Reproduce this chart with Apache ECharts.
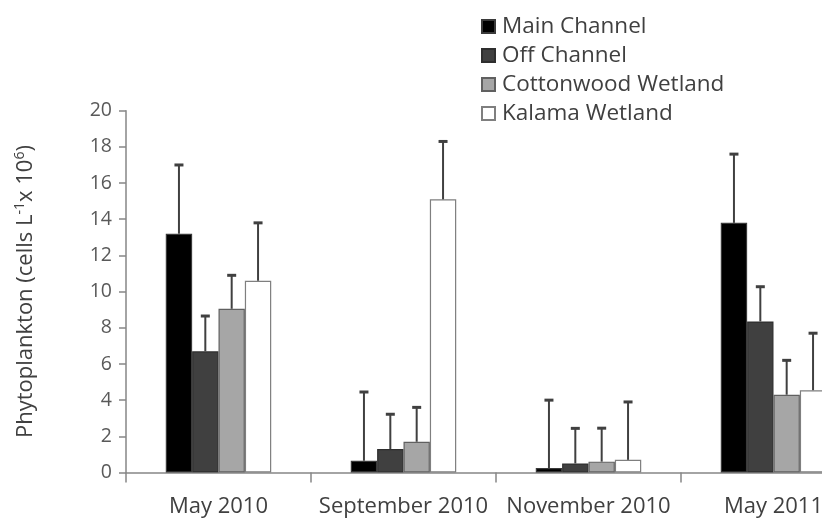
<!DOCTYPE html>
<html>
<head>
<meta charset="utf-8">
<script src="https://cdn.jsdelivr.net/npm/echarts@6/dist/echarts.min.js"></script>
<style>
  html, body { margin: 0; padding: 0; background: #fff; }
  #chart { width: 822px; height: 519px; }
</style>
</head>
<body>
<div id="chart"></div>
<script>
// Sampling periods
const categories = ['May 2010', 'September 2010', 'November 2010', 'May 2011'];

// Mean phytoplankton density (cells L-1 x 10^6) per site
const mainChannel = [13.2, 0.65, 0.25, 13.8];
const offChannel = [6.7, 1.3, 0.5, 8.35];
const cottonwoodWetland = [9.05, 1.7, 0.6, 4.3];
const kalamaWetland = [10.6, 15.1, 0.7, 4.55];

// Upper error bar lengths (same units)
const mainChannelErr = [3.8, 3.8, 3.75, 3.8];
const offChannelErr = [1.95, 1.92, 1.94, 1.92];
const cottonwoodWetlandErr = [1.85, 1.9, 1.85, 1.9];
const kalamaWetlandErr = [3.2, 3.2, 3.2, 3.15];

const yTicks = { min: 0, max: 20, interval: 2 };

const sites = [
  { name: 'Main Channel', values: mainChannel, errs: mainChannelErr, color: '#000000', border: '#3a3a3a' },
  { name: 'Off Channel', values: offChannel, errs: offChannelErr, color: '#404040', border: '#2e2e2e' },
  { name: 'Cottonwood Wetland', values: cottonwoodWetland, errs: cottonwoodWetlandErr, color: '#a6a6a6', border: '#606060' },
  { name: 'Kalama Wetland', values: kalamaWetland, errs: kalamaWetlandErr, color: '#ffffff', border: '#7f7f7f' }
];

const CATEGORY_GAP = 0.43;
const font = '"Open Sans", "Liberation Sans", sans-serif';

const barSeries = sites.map(s => ({
  name: s.name,
  type: 'bar',
  data: s.values,
  barGap: '0%',
  barCategoryGap: (CATEGORY_GAP * 100) + '%',
  itemStyle: { color: s.color, borderColor: s.border, borderWidth: 1.2 },
  z: 2
}));

// Upper error bars, positioned at the centre of each bar in its group
const errorSeries = sites.map((s, k) => ({
  name: s.name + ' SD',
  type: 'custom',
  z: 3,
  data: s.values.map((v, i) => [i, v, s.errs[i]]),
  encode: { x: 0, y: 1 },
  renderItem: function (params, api) {
    const cat = api.value(0), v = api.value(1), e = api.value(2);
    const base = api.coord([cat, v]);
    const top = api.coord([cat, v + e]);
    const band = api.size([1, 0])[0];
    const bw = band * (1 - CATEGORY_GAP) / sites.length;
    const x = base[0] + (k - (sites.length - 1) / 2) * bw;
    const stroke = '#404040';
    return {
      type: 'group',
      children: [
        { type: 'line', shape: { x1: x, y1: base[1], x2: x, y2: top[1] }, style: { stroke: stroke, lineWidth: 2 } },
        { type: 'line', shape: { x1: x - 4.5, y1: top[1], x2: x + 4.5, y2: top[1] }, style: { stroke: stroke, lineWidth: 3 } }
      ]
    };
  }
}));

const chart = echarts.init(document.getElementById('chart'), null, { renderer: 'canvas' });
chart.setOption({
  animation: false,
  backgroundColor: '#ffffff',
  legend: {
    orient: 'vertical',
    left: 476,
    top: 10,
    itemWidth: 13,
    itemHeight: 13,
    itemGap: 6,
    icon: 'rect',
    data: sites.map(s => s.name),
    textStyle: { fontFamily: font, fontSize: 22.5, color: '#404040', padding: [0, 0, 0, 2] }
  },
  grid: {
    left: 126,
    top: 110.7,
    bottom: 46.5,
    right: -44,
    containLabel: false,
    outerBoundsMode: 'none'
  },
  xAxis: {
    type: 'category',
    data: categories,
    axisLine: { lineStyle: { color: '#868686', width: 1.5 } },
    axisTick: { show: true, length: 10, alignWithLabel: false, lineStyle: { color: '#868686', width: 1.5 } },
    axisLabel: { fontFamily: font, fontSize: 22, color: '#404040', margin: 23, interval: 0 }
  },
  yAxis: {
    type: 'value',
    min: yTicks.min,
    max: yTicks.max,
    interval: yTicks.interval,
    splitLine: { show: false },
    axisLine: { show: true, lineStyle: { color: '#868686', width: 1.5 } },
    axisTick: { show: true, length: 7, lineStyle: { color: '#868686', width: 1.5 } },
    axisLabel: { fontFamily: font, fontSize: 19.5, color: '#595959', margin: 14 },
    name: '{a|Phytoplankton (cells L}{s|-1}{a|x 10}{s|6}{a|)}',
    nameLocation: 'middle',
    nameRotate: 90,
    nameGap: 88,
    nameTextStyle: {
      rich: {
        a: { fontFamily: font, fontSize: 22, color: '#404040' },
        s: { fontFamily: font, fontSize: 14, color: '#404040', padding: [0, 0, 11, 0] }
      }
    }
  },
  series: barSeries.concat(errorSeries)
});
</script>
</body>
</html>
